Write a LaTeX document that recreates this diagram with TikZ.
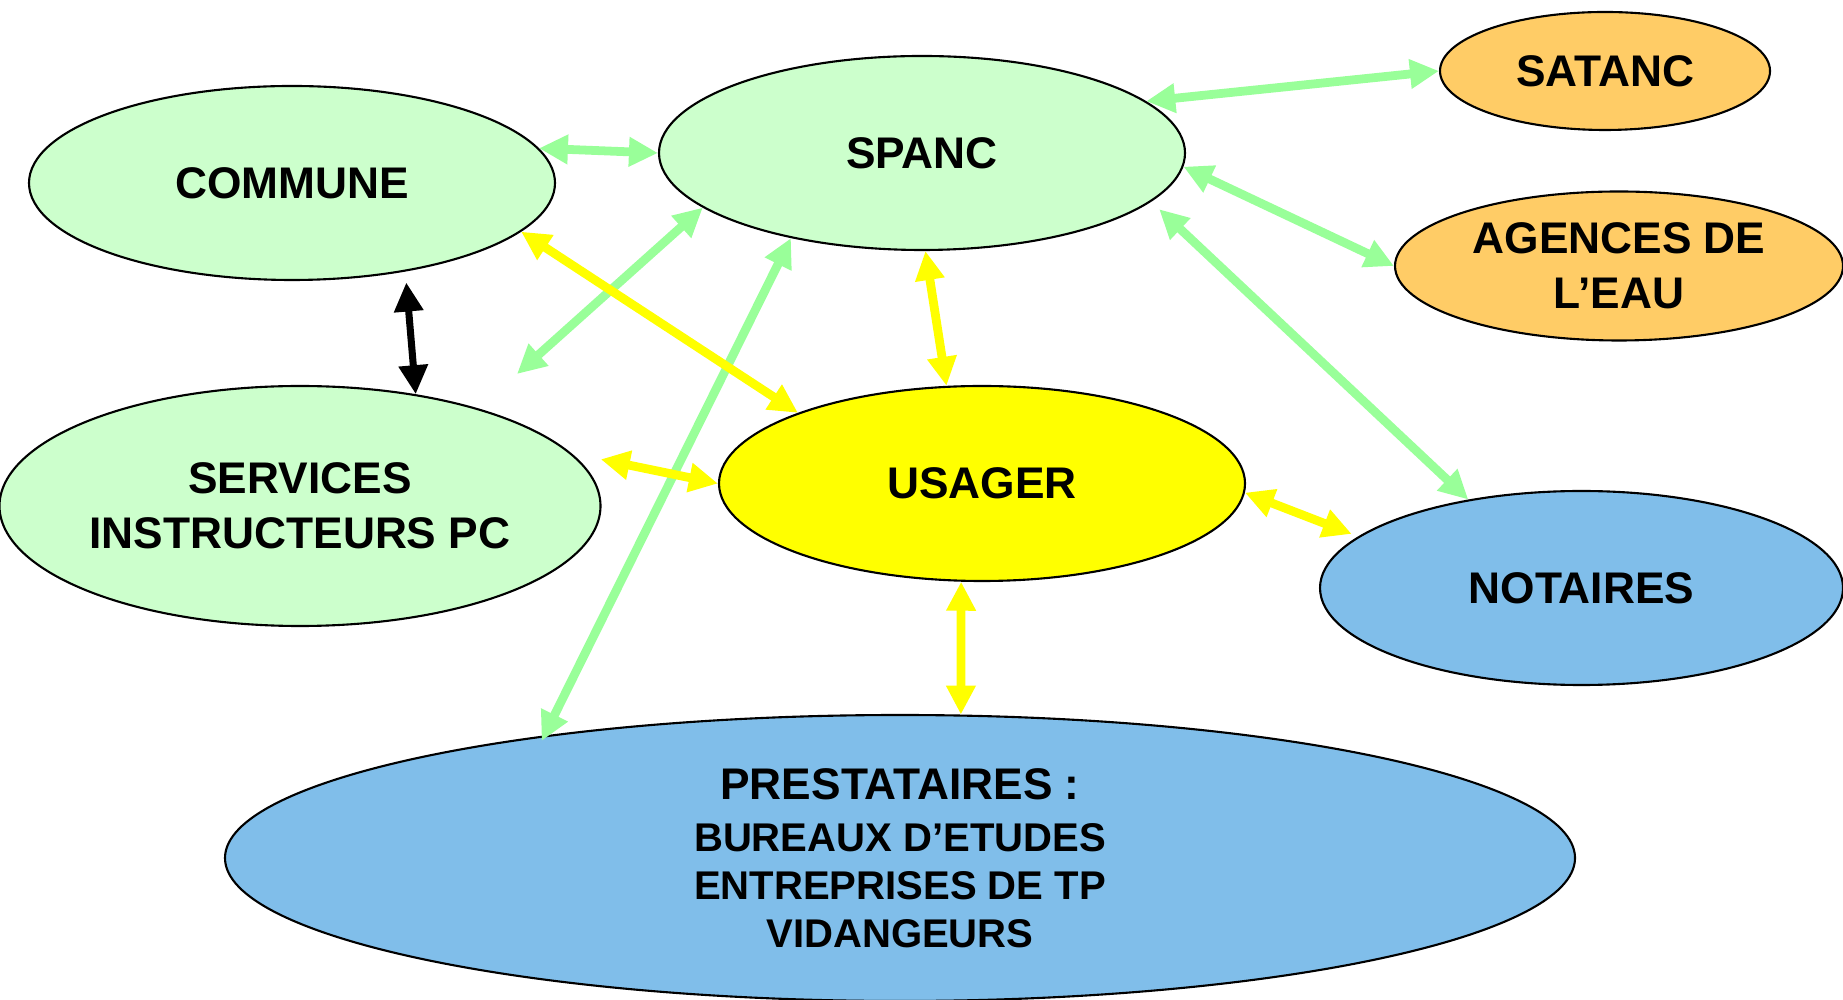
\documentclass[tikz,border=0pt]{standalone}
\usepackage{fontspec}
\setmainfont{Liberation Sans}
\usetikzlibrary{arrows.meta,shapes.geometric}

\definecolor{lgreen}{HTML}{CCFFCC}
\definecolor{lorange}{HTML}{FFCC66}
\definecolor{lyellow}{HTML}{FFFF00}
\definecolor{lblue}{HTML}{80BEEA}
\definecolor{agreen}{HTML}{99FF99}
\newcommand{\petit}{\fontsize{11.4}{13.7}\selectfont}

\begin{document}
\begin{tikzpicture}[>={Triangle[length=0.29cm,width=0.28cm]},
      ell/.style={draw,ellipse,line width=0.6pt,inner sep=0pt,align=center,
        font=\fontsize{12.6}{15.6}\selectfont\bfseries},
      glink/.style={<->,draw=agreen,line width=2.5pt},
      ylink/.style={<->,draw=lyellow,line width=2.5pt},
      klink/.style={<->,draw=black,line width=2pt}]
    \useasboundingbox (0,0) rectangle (18.43,9.99);
    \node[ell,fill=lgreen,minimum width=5.26cm,minimum height=1.94cm] (commune) at (2.92,8.16) {COMMUNE};
    \node[ell,fill=lgreen,minimum width=5.26cm,minimum height=1.94cm] (spanc) at (9.22,8.46) {SPANC};
    \node[ell,fill=lorange,minimum width=3.30cm,minimum height=1.18cm] (satanc) at (16.05,9.28) {SATANC};
    \node[ell,fill=lorange,minimum width=4.48cm,minimum height=1.49cm] (agences) at (16.19,7.33) {AGENCES DE\\L’EAU};
    \node[ell,fill=lgreen,minimum width=6.01cm,minimum height=2.40cm] (services) at (3.00,4.93) {SERVICES\\INSTRUCTEURS PC};
    \node[ell,fill=lyellow,minimum width=5.26cm,minimum height=1.95cm] (usager) at (9.82,5.155) {USAGER};
    \node[ell,fill=lblue,minimum width=5.23cm,minimum height=1.94cm] (notaires) at (15.815,4.11) {NOTAIRES};
    \node[ell,fill=lblue,minimum width=13.50cm,minimum height=2.86cm,
      font=\fontsize{12.6}{13.7}\selectfont\bfseries] (prest) at (9.00,1.41)
      {PRESTATAIRES :\\[1.1pt]\petit BUREAUX D’ETUDES\\\petit ENTREPRISES DE TP\\\petit VIDANGEURS};
    \coordinate (free) at (5.17,6.25);
    % liens du SPANC
    \draw[glink] (commune.8) -- (spanc.180);
    \draw[glink] (spanc.13) -- (satanc.180);
    \draw[glink] (spanc.-3) -- (agences.180);
    \draw[glink,shorten <=0.11cm] (spanc.-12) -- (notaires.142);
    \draw[glink] (spanc.194) -- (free);
    \draw[glink,shorten >=-0.06cm] (spanc.213) -- (prest.161);
    % liens de l'usager
    \draw[ylink] (commune.-12) -- (usager.159);
    \draw[ylink] (spanc.-88) -- (usager.110);
    \draw[ylink,shorten <=0.3cm] (services.11) -- (usager.180);
    \draw[ylink,shorten >=0.07cm] (usager.-2) -- (notaires.167);
    \draw[ylink] (usager.258) -- (prest.67);
    \draw[klink,shorten <=0.11cm] (commune.-38) -- (services.44);
  \end{tikzpicture}
\end{document}
